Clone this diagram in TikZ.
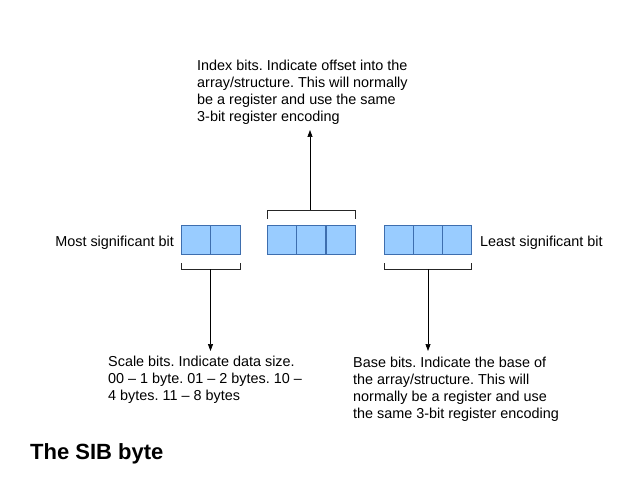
\documentclass[tikz,border=0pt]{standalone}
\usepackage{fontspec}
\setmainfont{Liberation Sans}
\usetikzlibrary{arrows.meta}
\definecolor{cellfill}{HTML}{99CCFF}
\definecolor{celldraw}{HTML}{3E6EAE}
\frenchspacing
\tikzset{
  cell/.style={draw=celldraw, fill=cellfill, line width=0.8pt, minimum width=29pt, minimum height=29pt, inner sep=0pt, outer sep=0pt},
  brk/.style={draw=black!85, line width=0.8pt},
  arr/.style={draw=black, line width=0.7pt, -{Triangle[length=7pt,width=5pt]}},
  txt/.style={font=\fontsize{14.4}{16.8}\selectfont, align=left, inner sep=0pt, anchor=north west},
  side/.style={font=\fontsize{14.4}{16.8}\selectfont, inner sep=0pt},
  title/.style={font=\fontsize{22}{26}\selectfont\bfseries, inner sep=0pt, anchor=base west}
}
\begin{document}
\begin{tikzpicture}[x=1pt,y=-1pt]
\useasboundingbox (0,0) rectangle (639,494);
% left group (scale)
\node[cell, minimum width=29.5pt, anchor=north west] (s1) at (181,225) {};
\node[cell, minimum width=29.5pt, anchor=north west] (s2) at (210.5,225) {};
% middle group (index)
\node[cell, anchor=north west] (i1) at (267,225) {};
\node[cell, anchor=north west] (i2) at (296.5,225) {};
\node[cell, anchor=north west] (i3) at (326,225) {};
% right group (base)
\node[cell, anchor=north west] (b1) at (384,225) {};
\node[cell, anchor=north west] (b2) at (413,225) {};
\node[cell, anchor=north west] (b3) at (442,225) {};
% brackets
\coordinate (sb) at (210.5,269);
\coordinate (ib) at (310,210);
\coordinate (bb) at (428,269);
\draw[brk] (181,263) -- (181,269) -- (240,269) -- (240,263);
\draw[brk] (267,219) -- (267,210) -- (355,210) -- (355,219);
\draw[brk] (384,263) -- (384,269) -- (471,269) -- (471,263);
% labels
\node[side, anchor=base east] (msb) at (174,246) {Most significant bit};
\node[side, anchor=base west] (lsb) at (480,246) {Least significant bit};
\node[txt] (itext) at (197,60) {Index bits. Indicate offset into the\\array/structure. This will normally\\be a register and use the same\\3-bit register encoding};
\node[txt] (stext) at (108,356) {Scale bits. Indicate data size.\\00 -- 1 byte. 01 -- 2 bytes. 10 --\\4 bytes. 11 -- 8 bytes};
\node[txt] (btext) at (353,357) {Base bits. Indicate the base of\\the array/structure. This will\\normally be a register and use\\the same 3-bit register encoding};
\node[title] (ttl) at (30,459) {The SIB byte};
% arrows
\coordinate (itip) at (310,130);
\coordinate (stip) at (210.5,351);
\coordinate (btip) at (428,351);
\draw[arr] (ib) -- (itip);
\draw[arr] (sb) -- (stip);
\draw[arr] (bb) -- (btip);
\end{tikzpicture}
\end{document}
